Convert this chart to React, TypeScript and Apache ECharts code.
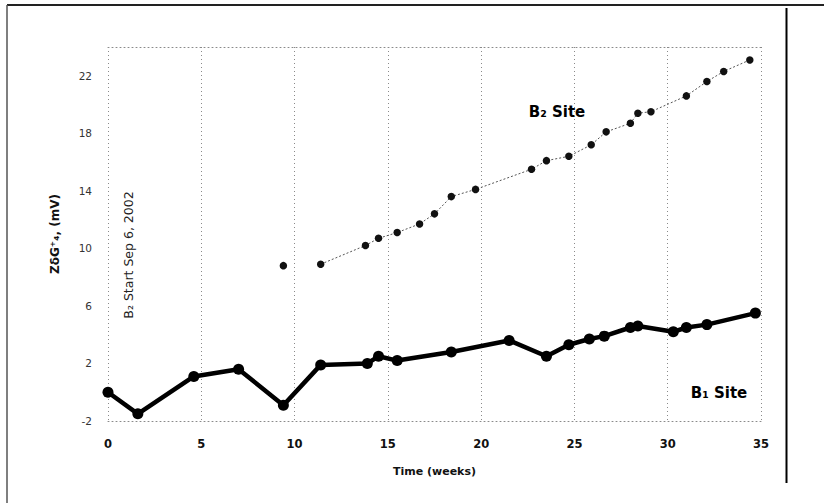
import React, { useEffect, useRef } from "react";
import * as echarts from "echarts";

const xTicks = [0, 5, 10, 15, 20, 25, 30, 35];
const yTicks = [-2, 2, 6, 10, 14, 18, 22];

const weeksB1 = [0, 1.6, 4.6, 7.0, 9.4, 11.4, 13.9, 14.5, 15.5, 18.4, 21.5, 23.5, 24.7, 25.8, 26.6, 28.0, 28.4, 30.3, 31.0, 32.1, 34.7];
const zetaB1 = [0.0, -1.5, 1.1, 1.6, -0.9, 1.9, 2.0, 2.5, 2.2, 2.8, 3.6, 2.5, 3.3, 3.7, 3.9, 4.5, 4.6, 4.2, 4.5, 4.7, 5.5];

const weeksB2 = [9.4, 11.4, 13.8, 14.5, 15.5, 16.7, 17.5, 18.4, 19.7, 22.7, 23.5, 24.7, 25.9, 26.7, 28.0, 28.4, 29.1, 31.0, 32.1, 33.0, 34.4];
const zetaB2 = [8.8, 8.9, 10.2, 10.7, 11.1, 11.7, 12.4, 13.6, 14.1, 15.5, 16.1, 16.4, 17.2, 18.1, 18.7, 19.4, 19.5, 20.6, 21.6, 22.3, 23.1];

const xName = "Time (weeks)";
const yName = "ZδG⁺₄, (mV)";
const startNote = "B₂ Start Sep 6, 2002";
const labelB1 = "B₁ Site";
const labelB2 = "B₂ Site";

export default function App() {
  const ref = useRef<HTMLDivElement>(null);
  useEffect(() => {
    if (!ref.current) return;
    const chart = echarts.init(ref.current, null, { renderer: "svg" });
    const b1 = weeksB1.map((w, i) => [w, zetaB1[i]]);
    const b2 = weeksB2.map((w, i) => [w, zetaB2[i]]);
    const dotted = { color: "#8a8a8a", width: 1, type: [1, 3] as any };
    chart.setOption({
      animation: false,
      backgroundColor: "#ffffff",
      textStyle: { fontFamily: "DejaVu Sans" },
      grid: { left: 108, right: 63, top: 47, bottom: 82, containLabel: false },
      xAxis: [
        {
          type: "value",
          min: xTicks[0],
          max: xTicks[xTicks.length - 1],
          interval: 5,
          name: xName,
          nameLocation: "middle",
          nameGap: 45,
          nameTextStyle: { fontWeight: "bold", fontSize: 11, color: "#111", fontFamily: "DejaVu Sans" },
          axisLine: { show: true, onZero: false, lineStyle: dotted },
          axisTick: { show: false },
          axisLabel: { margin: 17, fontWeight: "bold", fontSize: 11.5, color: "#111", fontFamily: "DejaVu Sans" },
          splitLine: { show: true, lineStyle: dotted },
        },
        {
          type: "value",
          position: "top",
          min: xTicks[0],
          max: xTicks[xTicks.length - 1],
          interval: 5,
          axisLine: { show: true, onZero: false, lineStyle: dotted },
          axisTick: { show: false },
          axisLabel: { show: false },
          splitLine: { show: false },
        },
      ],
      yAxis: {
        type: "value",
        min: -2,
        max: 24,
        name: yName,
        nameLocation: "middle",
        nameGap: 47,
        nameTextStyle: { fontWeight: "bold", fontSize: 12, color: "#111", fontFamily: "DejaVu Sans" },
        axisLine: { show: false },
        axisTick: { show: false, customValues: yTicks },
        axisLabel: {
          customValues: yTicks,
          margin: 16,
          fontSize: 10.5,
          color: "#333",
          fontFamily: "DejaVu Sans",
          formatter: (v: number) => String(v),
        },
        splitLine: { show: false },
      },
      series: [
        {
          type: "line",
          name: "B1",
          data: b1,
          symbol: "circle",
          symbolSize: 11,
          itemStyle: { color: "#000" },
          lineStyle: { color: "#000", width: 4.5 },
          z: 5,
        },
        {
          type: "scatter",
          name: "B2 first",
          data: b2.slice(0, 1),
          symbol: "circle",
          symbolSize: 7.5,
          itemStyle: { color: "#111", opacity: 1 },
          z: 4,
        },
        {
          type: "line",
          name: "B2",
          data: b2.slice(1),
          symbol: "circle",
          symbolSize: 7.5,
          itemStyle: { color: "#111" },
          lineStyle: { color: "#555", width: 1, type: [2, 2] },
          z: 4,
        },
      ],
      graphic: [
        { type: "line", shape: { x1: 7, y1: 5, x2: 824, y2: 5 }, style: { stroke: "#222", lineWidth: 2 } },
        { type: "line", shape: { x1: 7, y1: 5, x2: 7, y2: 503 }, style: { stroke: "#555", lineWidth: 1.5 } },
        { type: "line", shape: { x1: 786.5, y1: 8, x2: 786.5, y2: 483 }, style: { stroke: "#000", lineWidth: 2 } },
        {
          type: "text",
          x: 128,
          y: 255,
          rotation: Math.PI / 2,
          style: {
            text: startNote,
            fontSize: 12.5,
            fontFamily: "DejaVu Sans",
            fill: "#222",
            align: "center",
            verticalAlign: "middle",
          },
        },
        {
          type: "text",
          x: 557,
          y: 112,
          style: {
            text: labelB2,
            fontSize: 15,
            fontWeight: "bold",
            fontFamily: "DejaVu Sans",
            fill: "#000",
            align: "center",
            verticalAlign: "middle",
          },
        },
        {
          type: "text",
          x: 719,
          y: 393,
          style: {
            text: labelB1,
            fontSize: 15,
            fontWeight: "bold",
            fontFamily: "DejaVu Sans",
            fill: "#000",
            align: "center",
            verticalAlign: "middle",
          },
        },
      ],
    });
    return () => chart.dispose();
  }, []);
  return (
    <div
      ref={ref}
      style={{ position: "fixed", left: 0, top: 0, width: 824, height: 503, background: "#fff" }}
    />
  );
}
